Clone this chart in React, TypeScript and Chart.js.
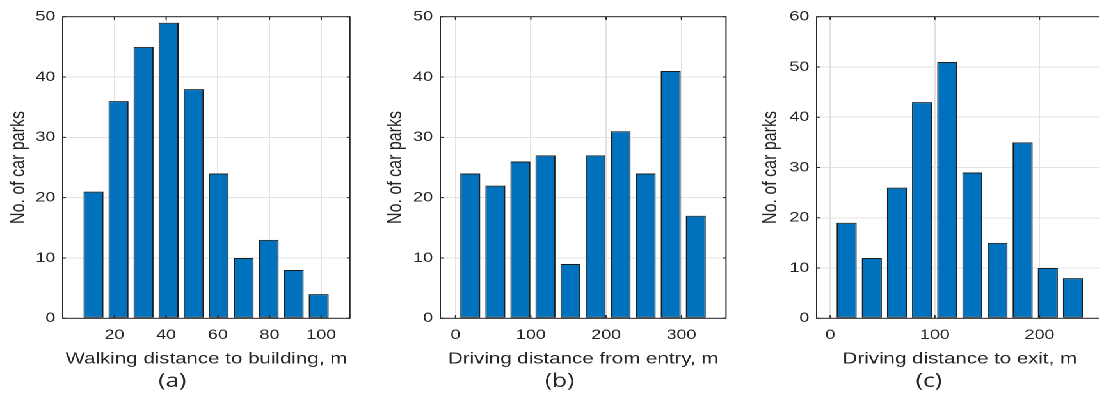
import React, { useEffect, useRef } from 'react';
import { Chart, registerables } from 'chart.js';

Chart.register(...registerables);

// ---------- data ----------
// Panel (a)
const walkBins = [11.9, 21.58, 31.26, 40.94, 50.62, 60.3, 69.98, 79.66, 89.34, 99.02];
const walkCounts = [21, 36, 45, 49, 38, 24, 10, 13, 8, 4];
const walkTicks = [20, 40, 60, 80, 100];
// Panel (b)
const entryBins = [19.6, 52.87, 86.14, 119.41, 152.68, 185.95, 219.22, 252.49, 285.76, 319.03];
const entryCounts = [24, 22, 26, 27, 9, 27, 31, 24, 41, 17];
const entryTicks = [0, 100, 200, 300];
// Panel (c)
const exitBins = [15.7, 39.73, 63.76, 87.79, 111.82, 135.85, 159.88, 183.91, 207.94, 231.97];
const exitCounts = [19, 12, 26, 43, 51, 29, 15, 35, 10, 8];
const exitTicks = [0, 100, 200];
const countStep = 10;

const yTitle = 'No. of car parks';

// ---------- style / layout ----------
const S = 1.28; // horizontal stretch of the reference figure
const CW = 294;
const CH = 399;
const TXT = '#262626';
const GRID = '#e2e2e2';
const BAR = '#0072BD';
const BAR_EDGE = '#1c1c1c';
const FONT = "'Liberation Sans', Arial, Helvetica, sans-serif";

const panels = [
  {
    key: 'a', label: '(a)', xTitle: 'Walking distance to building, m',
    bins: walkBins, counts: walkCounts, xTicks: walkTicks,
    xMin: 0, xMax: 111.1, yMax: 50,
    left: -0.55, rightPad: 19.6, yTitlePad: 6.2, labelDx: -26.6,
  },
  {
    key: 'b', label: '(b)', xTitle: 'Driving distance from entry, m',
    bins: entryBins, counts: entryCounts, xTicks: entryTicks,
    xMin: -20.2, xMax: 359.2, yMax: 50,
    left: 294.2, rightPad: 20.8, yTitlePad: 5.3, labelDx: -18.4,
  },
  {
    key: 'c', label: '(c)', xTitle: 'Driving distance to exit, m',
    bins: exitBins, counts: exitCounts, xTicks: exitTicks,
    xMin: -13.0, xMax: 260.8, yMax: 60,
    left: 588.05, rightPad: 20.2, yTitlePad: 4.3, labelDx: -24.2,
  },
];

// frame + inward tick marks (MATLAB box style)
const matlabBox = {
  id: 'matlabBox',
  afterDatasetsDraw(chart: any, _args: any, opts: any) {
    const { ctx, chartArea, scales } = chart;
    const { left, right, top, bottom } = chartArea;
    const x = scales.x;
    const y = scales.y;
    const lenV = opts.tickLength;
    const lenH = opts.tickLength / S;
    ctx.save();
    ctx.strokeStyle = opts.color;
    ctx.lineWidth = opts.lineWidth;
    ctx.beginPath();
    x.ticks.forEach((t: any) => {
      const px = x.getPixelForValue(t.value);
      ctx.moveTo(px, bottom);
      ctx.lineTo(px, bottom - lenV);
      ctx.moveTo(px, top);
      ctx.lineTo(px, top + lenV);
    });
    y.ticks.forEach((t: any) => {
      const py = y.getPixelForValue(t.value);
      ctx.moveTo(left, py);
      ctx.lineTo(left + lenH, py);
      ctx.moveTo(right, py);
      ctx.lineTo(right - lenH, py);
    });
    ctx.stroke();
    ctx.strokeRect(left, top, right - left, bottom - top);
    ctx.restore();
  },
};

const panelLabel = {
  id: 'panelLabel',
  afterDraw(chart: any, _args: any, o: any) {
    const { ctx, chartArea } = chart;
    ctx.save();
    ctx.font = `${o.size}px ${o.family}`;
    ctx.fillStyle = o.color;
    ctx.textAlign = 'center';
    ctx.textBaseline = 'middle';
    ctx.fillText(o.text, (chartArea.left + chartArea.right) / 2 + o.dx, o.y);
    ctx.restore();
  },
};

function Panel({ cfg }: { cfg: any }) {
  const ref = useRef<HTMLCanvasElement | null>(null);
  useEffect(() => {
    if (!ref.current) return;
    const chart = new Chart(ref.current, {
      type: 'bar',
      data: {
        datasets: [
          {
            data: cfg.bins.map((b: number, i: number) => ({ x: b, y: cfg.counts[i] })),
            backgroundColor: BAR,
            borderColor: BAR_EDGE,
            borderWidth: 1,
            borderSkipped: false,
            categoryPercentage: 1,
            barPercentage: 0.8,
          },
        ],
      },
      plugins: [matlabBox, panelLabel],
      options: {
        animation: false,
        responsive: false,
        devicePixelRatio: 2,
        events: [],
        font: { family: FONT },
        layout: { padding: { left: 0, right: cfg.rightPad, top: 16.7, bottom: 28.9 } },
        plugins: {
          legend: { display: false },
          tooltip: { enabled: false },
          title: { display: false },
          matlabBox: { color: TXT, lineWidth: 1, tickLength: 3.2 },
          panelLabel: { text: cfg.label, dx: cfg.labelDx, y: 381.5, size: 19, family: "'Open Sans', sans-serif", color: TXT },
        } as any,
        scales: {
          x: {
            type: 'linear',
            min: cfg.xMin,
            max: cfg.xMax,
            offset: false,
            afterBuildTicks: (s: any) => {
              s.ticks = cfg.xTicks.map((v: number) => ({ value: v }));
            },
            afterFit: (s: any) => {
              s.height = 51.8;
            },
            grid: { color: GRID, lineWidth: 1, drawTicks: false, offset: false },
            border: { display: false },
            ticks: { font: { family: FONT, size: 14 }, color: TXT, padding: 8.6, maxRotation: 0, autoSkip: false },
            title: {
              display: true,
              text: cfg.xTitle,
              font: { family: FONT, size: 16 },
              color: TXT,
              padding: { top: 0, bottom: 1.5 },
            },
          },
          y: {
            type: 'linear',
            min: 0,
            max: cfg.yMax,
            afterFit: (s: any) => {
              s.width = 50;
            },
            grid: { color: GRID, lineWidth: 1, drawTicks: false },
            border: { display: false },
            ticks: { stepSize: countStep, font: { family: FONT, size: 14 }, color: TXT, padding: 5.7 },
            title: {
              display: true,
              text: yTitle,
              font: { family: FONT, size: 16 },
              color: TXT,
              padding: { top: cfg.yTitlePad, bottom: 0 },
            },
          },
        } as any,
      } as any,
    });
    return () => chart.destroy();
  }, [cfg]);
  return (
    <canvas
      ref={ref}
      width={CW}
      height={CH}
      style={{ position: 'absolute', left: cfg.left, top: 0, width: CW, height: CH }}
    />
  );
}

export default function App() {
  return (
    <div
      style={{
        position: 'absolute',
        left: 0,
        top: 0,
        width: 1099,
        height: 399,
        overflow: 'hidden',
        background: '#ffffff',
      }}
    >
      <div
        style={{
          position: 'absolute',
          left: 0,
          top: 0,
          width: 1130 / S,
          height: 399,
          transform: `scaleX(${S})`,
          transformOrigin: '0 0',
        }}
      >
        {panels.map((p) => (
          <Panel key={p.key} cfg={p} />
        ))}
      </div>
    </div>
  );
}
